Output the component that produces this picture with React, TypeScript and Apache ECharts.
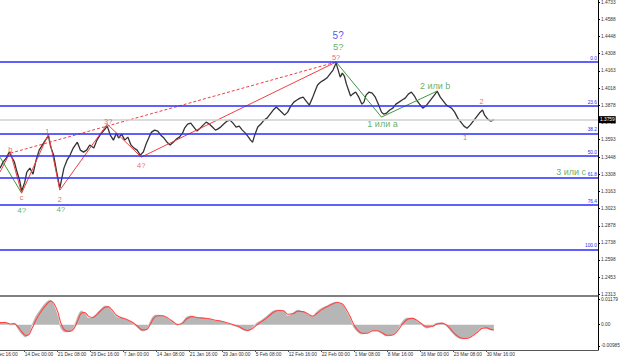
import React, { useEffect, useRef } from "react";
import * as echarts from "echarts";

// x axis: bar index (0 = "4 Dec 16:00"), one tick label every 32 bars
const xTickBars = [0, 32, 64, 96, 128, 160, 192, 224, 256, 288, 320, 352, 384, 416, 448, 480];
const xTickLabels = ["4 Dec 16:00", "14 Dec 00:00", "21 Dec 08:00", "29 Dec 16:00", "7 Jan 00:00", "14 Jan 08:00", "21 Jan 16:00", "29 Jan 00:00", "5 Feb 08:00", "12 Feb 16:00", "22 Feb 00:00", "1 Mar 08:00", "8 Mar 16:00", "16 Mar 00:00", "23 Mar 08:00", "30 Mar 16:00"];

const priceTicks = [1.4733, 1.4588, 1.4448, 1.4308, 1.4163, 1.4018, 1.3878, 1.3733, 1.3593, 1.3448, 1.3308, 1.3163, 1.3023, 1.2878, 1.2738, 1.2598, 1.2453, 1.2313];
const oscTicks = [0.01179, 0, -0.00985];

const priceBars = [8,11,14,17,19,22,24,27,29,32,34,37,40,43,46,49,52,55,57,60,63,66,68,70,73,76,79,83,86,89,92,95,99,102,105,109,112,115,118,121,123,126,129,132,135,138,141,144,147,150,153,155,158,161,164,167,170,173,176,179,182,185,187,190,193,196,199,202,205,208,211,214,217,219,222,225,228,231,234,237,240,243,246,249,251,253,255,258,261,264,267,270,273,276,279,282,284,287,290,293,296,299,302,305,308,311,314,316,319,322,325,328,331,334,336,338,340,342,344,346,348,350,353,356,359,361,363,366,369,372,375,378,380,383,386,389,392,395,398,401,404,407,410,412,415,418,421,424,427,430,432,435,438,441,444,446,449,452,455,458,461,464,467,470,473,476,478,481,484,487];
const priceValues = [1.3357,1.3407,1.3440,1.3490,1.3456,1.3407,1.3340,1.3257,1.3166,1.3241,
1.3324,1.3357,1.3307,1.3423,1.3506,1.3548,1.3589,1.3622,1.3539,1.3465,
1.3324,1.3191,1.3274,1.3357,1.3423,1.3465,1.3523,1.3572,1.3506,1.3490,
1.3506,1.3548,1.3523,1.3589,1.3630,1.3672,1.3705,1.3630,1.3589,1.3647,
1.3606,1.3639,1.3589,1.3614,1.3548,1.3523,1.3506,1.3465,1.3490,1.3564,
1.3622,1.3655,1.3672,1.3664,1.3630,1.3606,1.3572,1.3548,1.3572,1.3597,
1.3614,1.3647,1.3688,1.3722,1.3730,1.3697,1.3664,1.3688,1.3713,1.3738,
1.3722,1.3697,1.3672,1.3680,1.3697,1.3722,1.3746,1.3755,1.3730,1.3697,
1.3705,1.3672,1.3647,1.3614,1.3589,1.3572,1.3630,1.3697,1.3722,1.3755,
1.3771,1.3805,1.3838,1.3863,1.3838,1.3813,1.3796,1.3821,1.3871,1.3904,
1.3921,1.3937,1.3945,1.3912,1.3879,1.3937,1.4004,1.4045,1.4070,1.4086,
1.4103,1.4136,1.4169,1.4227,1.4169,1.4111,1.4144,1.4120,1.4053,1.4004,
1.3954,1.3970,1.3987,1.3945,1.3887,1.3904,1.3962,1.3987,1.3979,1.3945,
1.3887,1.3821,1.3805,1.3813,1.3838,1.3854,1.3887,1.3904,1.3921,1.3937,
1.3970,1.3987,1.3954,1.3921,1.3887,1.3854,1.3871,1.3904,1.3937,1.3970,
1.3995,1.3945,1.3912,1.3879,1.3863,1.3854,1.3821,1.3771,1.3738,1.3705,
1.3688,1.3713,1.3746,1.3780,1.3813,1.3838,1.3796,1.3763,1.3746,1.3759];
const lastPrice = 1.3759;

const fibLevels = [1.4238, 1.3871, 1.3645, 1.34615, 1.3278, 1.3051, 1.2685];
const fibNames = ["0.0", "23.6", "38.2", "50.0", "61.8", "76.4", "100.0"];

const redWaveBars = [8, 18, 29, 55, 66, 112, 145, 334];
const redWaveValues = [1.3324, 1.3490, 1.3150, 1.3639, 1.3175, 1.3722, 1.3448, 1.4236];
const redDashBars = [18, 334];
const redDashValues = [1.3481, 1.4236];
const greenLeftBars = [8, 29];
const greenLeftValues = [1.3448, 1.3150];
const greenWaveBars = [334, 378, 432];
const greenWaveValues = [1.4236, 1.3780, 1.3995];

const waveTexts = ["5?", "5?", "5?", "3?", "1", "b", "4?", "2", "c", "4?", "4?", "1 или a", "2 или b", "2", "1", "3 или c"];
const waveBars = [336, 336, 334, 113, 54, 18, 145, 66, 29, 29, 67, 379, 430, 475, 459, 562];
const wavePrices = [1.4456, 1.4365, 1.4274, 1.3747, 1.3664, 1.3515, 1.3382, 1.3100, 1.3117, 1.3009, 1.3017, 1.3722, 1.4037, 1.3912, 1.3614, 1.3324];
const waveColors = ["blue", "green", "red", "red", "red", "red", "red", "red", "red", "green", "green", "green", "green", "red", "red", "green"];
const waveSizes = [10, 9.5, 7.5, 7.5, 7.5, 7.5, 7.5, 7.5, 7.5, 8, 8, 9, 9, 7.5, 7.5, 9];

const oscBars = [8,13,18,22,25,29,33,36,39,43,47,52,57,60,64,67,71,76,80,84,87,90,94,98,102,106,110,113,117,121,126,131,136,141,146,150,154,157,161,166,171,176,180,185,189,194,199,205,211,217,221,227,233,239,244,248,252,257,262,268,273,278,283,287,292,297,302,307,311,315,320,325,330,335,340,344,348,351,355,359,364,369,374,379,383,388,393,398,403,408,412,417,422,427,432,437,442,446,451,456,461,466,471,476,480,484,487];
const histValues = [0.0007,0.0012,-0.0002,0.0007,-0.0016,-0.0043,-0.0057,-0.0039,-0.0002,0.0040,
0.0067,0.0099,0.0113,0.0090,0.0040,-0.0016,-0.0034,-0.0029,-0.0006,0.0044,
0.0063,0.0053,0.0030,0.0035,0.0053,0.0072,0.0086,0.0081,0.0058,0.0035,
0.0030,0.0021,0.0007,-0.0011,-0.0029,-0.0020,0.0017,0.0040,0.0044,0.0040,
0.0026,0.0007,-0.0002,0.0012,0.0035,0.0040,0.0030,0.0030,0.0026,0.0017,
0.0017,0.0007,-0.0002,-0.0011,-0.0025,-0.0029,-0.0016,0.0007,0.0021,0.0044,
0.0063,0.0067,0.0063,0.0040,0.0053,0.0067,0.0058,0.0044,0.0035,0.0058,
0.0076,0.0086,0.0099,0.0104,0.0090,0.0058,0.0021,-0.0011,-0.0034,-0.0043,
-0.0039,-0.0025,-0.0029,-0.0043,-0.0052,-0.0048,-0.0025,0.0012,0.0030,0.0030,
0.0017,-0.0002,-0.0016,-0.0006,0.0007,0.0007,-0.0011,-0.0034,-0.0057,-0.0066,
-0.0062,-0.0048,-0.0029,-0.0011,-0.0016,-0.0025,-0.0025];
const signalValues = [0.0009,0.0010,0.0003,0.0004,-0.0008,-0.0032,-0.0050,-0.0046,-0.0018,0.0022,
0.0055,0.0086,0.0108,0.0100,0.0060,0.0008,-0.0026,-0.0031,-0.0016,0.0025,
0.0054,0.0056,0.0038,0.0033,0.0046,0.0065,0.0080,0.0083,0.0066,0.0043,
0.0032,0.0024,0.0012,-0.0005,-0.0024,-0.0023,0.0003,0.0029,0.0041,0.0041,
0.0030,0.0013,0.0001,0.0007,0.0026,0.0037,0.0033,0.0030,0.0027,0.0020,
0.0018,0.0010,0.0002,-0.0008,-0.0020,-0.0027,-0.0020,-0.0002,0.0015,0.0036,
0.0056,0.0065,0.0064,0.0048,0.0050,0.0062,0.0060,0.0049,0.0039,0.0050,
0.0069,0.0082,0.0094,0.0102,0.0095,0.0069,0.0033,0.0002,-0.0026,-0.0040,
-0.0040,-0.0029,-0.0028,-0.0039,-0.0049,-0.0049,-0.0032,0.0000,0.0024,0.0029,
0.0021,0.0004,-0.0011,-0.0009,0.0003,0.0007,-0.0005,-0.0026,-0.0050,-0.0063,
-0.0064,-0.0053,-0.0035,-0.0016,-0.0015,-0.0022,-0.0025];

const COLORS: Record<string, string> = { blue: "#2a2ae8", green: "#3b9a3b", red: "#f04040" };
const FONT = "Liberation Sans";

export default function App() {
  const ref = useRef<HTMLDivElement>(null);
  useEffect(() => {
    if (!ref.current) return;
    const chart = echarts.init(ref.current, null, { renderer: "svg" });
    const zip = (a: number[], b: number[]) => a.map((v, i) => [v, b[i]]);
    const axisFont = { fontFamily: FONT, fontSize: 4.8, color: "#333" };
    const xBase = {
      type: "value",
      min: 0,
      max: 588,
      splitLine: { show: false },
    };
    chart.setOption({
      animation: false,
      backgroundColor: "#ffffff",
      grid: [
        { left: -8.25, right: 22, top: 0, height: 296, containLabel: false, outerBoundsMode: "none" },
        { left: -8.25, right: 22, top: 296, height: 54, containLabel: false, outerBoundsMode: "none" },
      ],
      xAxis: [
        {
          ...xBase,
          gridIndex: 0,
          axisLine: { show: true, onZero: false, lineStyle: { color: "#555", width: 1.5 } },
          axisTick: { show: false },
          axisLabel: { show: false },
        },
        {
          ...xBase,
          gridIndex: 1,
          axisLine: { show: true, onZero: false, lineStyle: { color: "#555", width: 1 } },
          axisTick: { show: true, length: 2, customValues: xTickBars, lineStyle: { color: "#555" } },
          axisLabel: {
            customValues: xTickBars,
            formatter: (v: number) => {
              const i = xTickBars.indexOf(Math.round(v));
              return i >= 0 ? xTickLabels[i] : "";
            },
            align: "left",
            margin: 2,
            ...axisFont,
          },
        },
      ],
      yAxis: [
        {
          type: "value",
          gridIndex: 0,
          position: "right",
          min: 1.2298,
          max: 1.47496,
          axisLine: { show: true, onZero: false, lineStyle: { color: "#000", width: 1 } },
          axisTick: { show: true, length: 2, customValues: priceTicks, lineStyle: { color: "#000" } },
          axisLabel: { customValues: priceTicks, formatter: (v: number) => v.toFixed(4), margin: 3, ...axisFont },
          splitLine: { show: false },
        },
        {
          type: "value",
          gridIndex: 1,
          position: "right",
          min: -0.0117,
          max: 0.0132,
          axisLine: { show: true, onZero: false, lineStyle: { color: "#000", width: 1 } },
          axisTick: { show: true, length: 2, customValues: oscTicks, lineStyle: { color: "#000" } },
          axisLabel: {
            customValues: oscTicks,
            formatter: (v: number) => (Math.abs(v) < 1e-9 ? "0.00" : String(v)),
            margin: 3,
            ...axisFont,
          },
          splitLine: { show: false },
        },
      ],
      series: [
        {
          name: "fib",
          type: "line",
          xAxisIndex: 0,
          yAxisIndex: 0,
          data: [],
          z: 1,
          markLine: {
            silent: true,
            precision: 6,
            symbol: ["none", "none"],
            lineStyle: { color: "#2b2bff", width: 1.6, type: "solid" },
            label: { position: "insideEndTop", color: "#2b2bff", fontSize: 4.8, fontFamily: FONT, distance: 1 },
            data: fibLevels.map((v, i) => ({ yAxis: v, name: fibNames[i], label: { formatter: fibNames[i] } })),
          },
        },
        {
          name: "bid",
          type: "line",
          xAxisIndex: 0,
          yAxisIndex: 0,
          data: [],
          z: 1,
          markLine: {
            silent: true,
            precision: 6,
            symbol: ["none", "none"],
            lineStyle: { color: "#cfcfcf", width: 1.5, type: "solid" },
            label: {
              position: "end",
              formatter: lastPrice.toFixed(4),
              backgroundColor: "#000",
              color: "#fff",
              padding: [1, 1],
              fontSize: 4.8,
              fontFamily: FONT,
              distance: 1,
            },
            data: [{ yAxis: lastPrice }],
          },
        },
        {
          name: "price",
          type: "line",
          xAxisIndex: 0,
          yAxisIndex: 0,
          data: zip(priceBars, priceValues),
          symbol: "none",
          z: 3,
          lineStyle: { color: "#333333", width: 1.3 },
        },
        {
          name: "redDash",
          type: "line",
          xAxisIndex: 0,
          yAxisIndex: 0,
          data: zip(redDashBars, redDashValues),
          symbol: "none",
          z: 4,
          lineStyle: { color: COLORS.red, width: 1, type: [3, 2] },
        },
        {
          name: "redWave",
          type: "line",
          xAxisIndex: 0,
          yAxisIndex: 0,
          data: zip(redWaveBars, redWaveValues),
          symbol: "none",
          z: 4,
          lineStyle: { color: COLORS.red, width: 1 },
        },
        {
          name: "greenLeft",
          type: "line",
          xAxisIndex: 0,
          yAxisIndex: 0,
          data: zip(greenLeftBars, greenLeftValues),
          symbol: "none",
          z: 4,
          lineStyle: { color: COLORS.green, width: 1 },
        },
        {
          name: "greenWave",
          type: "line",
          xAxisIndex: 0,
          yAxisIndex: 0,
          data: zip(greenWaveBars, greenWaveValues),
          symbol: "none",
          z: 4,
          lineStyle: { color: COLORS.green, width: 1 },
        },
        {
          name: "labels",
          type: "scatter",
          xAxisIndex: 0,
          yAxisIndex: 0,
          symbolSize: 0,
          z: 5,
          data: waveTexts.map((t, i) => ({
            value: [waveBars[i], wavePrices[i]],
            label: {
              show: true,
              position: "inside",
              formatter: t,
              color: COLORS[waveColors[i]],
              fontSize: waveSizes[i],
              fontFamily: FONT,
            },
          })),
        },
        {
          name: "osma",
          type: "line",
          xAxisIndex: 1,
          yAxisIndex: 1,
          data: zip(oscBars, histValues),
          symbol: "none",
          smooth: 0.35,
          z: 2,
          lineStyle: { color: "#aaaaaa", width: 0.5 },
          areaStyle: { color: "#b6b6b6", opacity: 1 },
        },
        {
          name: "signal",
          type: "line",
          xAxisIndex: 1,
          yAxisIndex: 1,
          data: zip(oscBars, signalValues),
          symbol: "none",
          smooth: 0.35,
          z: 3,
          lineStyle: { color: "#ff4545", width: 1.1 },
        },
      ],
    });
    return () => chart.dispose();
  }, []);
  return (
    <div
      ref={ref}
      style={{ position: "fixed", left: 0, top: 0, width: 620, height: 361, background: "#fff" }}
    />
  );
}
